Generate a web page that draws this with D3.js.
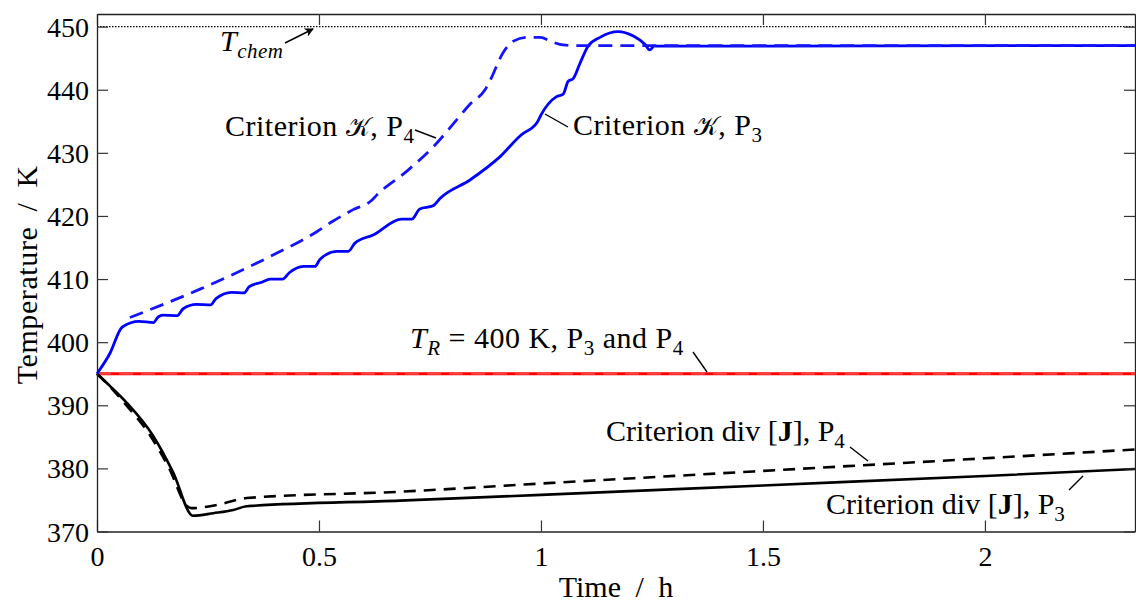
<!DOCTYPE html>
<html>
<head>
<meta charset="utf-8">
<script src="https://cdn.jsdelivr.net/npm/d3@7/dist/d3.min.js"></script>
<style>
  html, body { margin: 0; padding: 0; background: #fff; }
  svg { display: block; }
  text { font-family: "Liberation Serif", "Times New Roman", serif; fill: #000; }
</style>
</head>
<body>
<svg id="chart" width="1136" height="603"></svg>
<script>
// Reactor temperature for the two criteria, time in hours
const timeKP3 = [0, 0.029, 0.057, 0.095, 0.127, 0.138, 0.148, 0.181, 0.194, 0.224, 0.256, 0.268, 0.303, 0.331, 0.343, 0.371, 0.390, 0.418, 0.433, 0.465, 0.491, 0.502, 0.540, 0.566, 0.581, 0.622, 0.686, 0.709, 0.727, 0.757, 0.773, 0.840, 0.908, 0.960, 0.979, 0.992, 1.000, 1.035, 1.050, 1.061, 1.073, 1.088, 1.106, 1.133, 1.174, 1.208, 1.234, 1.245, 1.255, 2.338];
const tempKP3 = [395, 398.2, 402.4, 403.3, 403.1, 404.0, 404.3, 404.2, 405.3, 406.0, 405.9, 406.9, 407.9, 407.8, 408.8, 409.5, 410.0, 410.0, 411.0, 412.0, 412.0, 413.1, 414.4, 414.4, 415.7, 417.0, 419.5, 419.5, 421.1, 421.6, 422.8, 425.7, 429.4, 433.1, 433.9, 434.9, 436.0, 438.9, 439.3, 441.3, 441.8, 444.2, 446.9, 448.3, 449.2, 448.5, 447.2, 446.3, 446.9, 447.0];

const timeKP4 = [0.074, 0.232, 0.382, 0.495, 0.532, 0.577, 0.619, 0.630, 0.698, 0.766, 0.811, 0.840, 0.874, 0.885, 0.915, 0.938, 0.968, 0.998, 1.028, 1.050, 1.080, 2.338];
const tempKP4 = [403.9, 408.4, 413.3, 417.5, 419.2, 421.0, 422.5, 423.3, 427.1, 431.6, 435.3, 437.7, 440.0, 441.4, 445.9, 447.7, 448.3, 448.3, 447.5, 447.1, 447.0, 447.0];

const timeDivP3 = [0, 0.030, 0.067, 0.127, 0.172, 0.216, 0.262, 0.307, 0.337, 0.682, 1.0, 1.5, 2.0, 2.338];
const tempDivP3 = [395, 393.0, 390.4, 385.1, 379.3, 372.5, 372.9, 373.4, 374.0, 374.9, 375.8, 377.3, 378.8, 379.9];

const timeDivP4 = [0, 0.030, 0.060, 0.119, 0.164, 0.203, 0.213, 0.270, 0.337, 0.682, 1.0, 1.5, 2.0, 2.338];
const tempDivP4 = [395, 392.9, 390.5, 385.3, 379.8, 374.0, 373.7, 374.2, 375.3, 376.3, 377.6, 379.6, 381.6, 383.0];

const timeTR = [0, 2.338];
const tempTR = [395, 395];

const tChem = 450;

const xTicks = [0, 0.5, 1, 1.5, 2];
const xTickLabels = ["0", "0.5", "1", "1.5", "2"];
const yTicks = [370, 380, 390, 400, 410, 420, 430, 440, 450];

const xLabel = "Time / h";
const yLabel = "Temperature / K";

const svg = d3.select("#chart");
const margin = { left: 97, right: 1, top: 14, bottom: 71.5 };
const W = 1136, H = 603;

const x = d3.scaleLinear().domain([0, 2.338]).range([margin.left, W - margin.right]);
const y = d3.scaleLinear().domain([370, 452]).range([H - margin.bottom, margin.top]);

const toPts = (ts, vs) => ts.map((t, i) => [t, vs[i]]);
const line = d3.line().x(d => x(d[0])).y(d => y(d[1])).curve(d3.curveMonotoneX);

const plot = svg.append("g");

// T_chem reference line
plot.append("line")
  .attr("x1", x(0)).attr("x2", x(2.338))
  .attr("y1", y(tChem)).attr("y2", y(tChem))
  .attr("stroke", "#000").attr("stroke-width", 1.2)
  .attr("stroke-dasharray", "1.5,1.5");

// Reactor temperature fixed, both paths
plot.append("path").datum(toPts(timeTR, tempTR))
  .attr("d", line).attr("fill", "none").attr("stroke", "#ff0000").attr("stroke-width", 3);
plot.append("path").datum(toPts(timeTR, tempTR))
  .attr("d", line).attr("fill", "none").attr("stroke", "#ff4040").attr("stroke-width", 2)
  .attr("stroke-dasharray", "14,8");

// div[J] criterion
plot.append("path").datum(toPts(timeDivP3, tempDivP3))
  .attr("d", line).attr("fill", "none").attr("stroke", "#000").attr("stroke-width", 2.6);
plot.append("path").datum(toPts(timeDivP4, tempDivP4))
  .attr("d", line).attr("fill", "none").attr("stroke", "#000").attr("stroke-width", 2.6)
  .attr("stroke-dasharray", "12,8");

// K criterion
plot.append("path").datum(toPts(timeKP3, tempKP3))
  .attr("d", line).attr("fill", "none").attr("stroke", "#0000ff").attr("stroke-width", 2.8);
plot.append("path").datum(toPts(timeKP4, tempKP4))
  .attr("d", line).attr("fill", "none").attr("stroke", "#1414ff").attr("stroke-width", 2.8)
  .attr("stroke-dasharray", "14,8");

// Axes with inward ticks on all four sides
const axB = svg.append("g").attr("transform", `translate(0,${y(370)})`)
  .call(d3.axisBottom(x).tickValues(xTicks).tickFormat((d, i) => xTickLabels[i])
    .tickSizeInner(-11).tickSizeOuter(0).tickPadding(15));
const axT = svg.append("g").attr("transform", `translate(0,${y(452)})`)
  .call(d3.axisTop(x).tickValues(xTicks).tickFormat("")
    .tickSizeInner(-11).tickSizeOuter(0));
const axL = svg.append("g").attr("transform", `translate(${x(0)},0)`)
  .call(d3.axisLeft(y).tickValues(yTicks).tickFormat(d3.format("d"))
    .tickSizeInner(-11).tickSizeOuter(0).tickPadding(8));
const axR = svg.append("g").attr("transform", `translate(${x(2.338)},0)`)
  .call(d3.axisRight(y).tickValues(yTicks).tickFormat("")
    .tickSizeInner(-11).tickSizeOuter(0));

[axB, axT, axL, axR].forEach(g => {
  g.selectAll("path.domain").attr("stroke", "#222").attr("stroke-width", 1.3);
  g.selectAll(".tick line").attr("stroke", "#333").attr("stroke-width", 1.2);
  g.selectAll(".tick text").style("font-size", "28px").attr("fill", "#000");
});
axL.selectAll(".tick text").attr("dy", "0.34em");

// Axis titles
svg.append("text").attr("x", (x(0) + x(2.338)) / 2).attr("y", 597)
  .attr("text-anchor", "middle").style("font-size", "30px").style("word-spacing", "7px").text(xLabel);
svg.append("text").attr("transform", `translate(37,${(y(370) + y(452)) / 2 + 2}) rotate(-90)`)
  .attr("text-anchor", "middle").style("font-size", "30px").style("word-spacing", "7px")
  .style("letter-spacing", "0.6px").text(yLabel);

// Annotation helper: parts are [text, style] with style in {"", "i", "b", "sub", "subi", "cal"}
function note(px, py, parts, size, spacing) {
  const t = svg.append("text").attr("x", px).attr("y", py)
    .style("font-size", size + "px").style("letter-spacing", spacing + "px");
  let lowered = false;
  parts.forEach(([s, st]) => {
    const sp = t.append("tspan").text(s);
    if (st === "i" || st === "subi") sp.style("font-style", "italic");
    if (st === "b") sp.style("font-weight", "bold");
    if (st === "cal") sp.style("font-family", "'DejaVu Sans', 'DejaVu Serif', serif").style("font-size", (size * 0.85) + "px");
    if (st === "sub" || st === "subi") {
      sp.style("font-size", (size * 0.7) + "px");
      if (!lowered) { sp.attr("dy", size * 0.22); lowered = true; }
    } else if (lowered) {
      sp.attr("dy", -size * 0.22); lowered = false;
    }
  });
  return t;
}
function leader(x1, y1, x2, y2) {
  svg.append("line").attr("x1", x1).attr("y1", y1).attr("x2", x2).attr("y2", y2)
    .attr("stroke", "#000").attr("stroke-width", 1.4);
}

const fs = 30;
const calK = "\u{1D4A6}";
note(220, 51, [["T", "i"], ["chem", "subi"]], fs, 0.5);
// arrow towards T_chem line
svg.append("defs").append("marker").attr("id", "ah").attr("viewBox", "0 0 10 10")
  .attr("refX", 9).attr("refY", 5).attr("markerWidth", 9).attr("markerHeight", 9)
  .attr("orient", "auto").attr("markerUnits", "userSpaceOnUse")
  .append("path").attr("d", "M0,0 L10,5 L0,10 L3,5 Z").attr("fill", "#000");
svg.append("line").attr("x1", 285).attr("y1", 43).attr("x2", 313).attr("y2", 29)
  .attr("stroke", "#000").attr("stroke-width", 1.4).attr("marker-end", "url(#ah)");

note(225, 136, [["Criterion ", ""], [calK, "cal"], [", P", ""], ["4", "sub"]], fs, 0.5);
leader(415, 130, 436, 138);

note(573, 135, [["Criterion ", ""], [calK, "cal"], [", P", ""], ["3", "sub"]], fs, 0.5);
leader(545, 114, 568, 127);

note(410, 348, [["T", "i"], ["R", "subi"], [" = 400 K, P", ""], ["3", "sub"], [" and P", ""], ["4", "sub"]], fs, 0.5);
leader(693, 352, 707, 372);

note(606, 441, [["Criterion div ", ""], ["[", ""], ["J", "b"], ["], P", ""], ["4", "sub"]], fs, 0);
leader(850, 447, 868, 461);

note(826, 514, [["Criterion div ", ""], ["[", ""], ["J", "b"], ["], P", ""], ["3", "sub"]], fs, 0);
leader(1069, 490, 1083, 476);
</script>
</body>
</html>
